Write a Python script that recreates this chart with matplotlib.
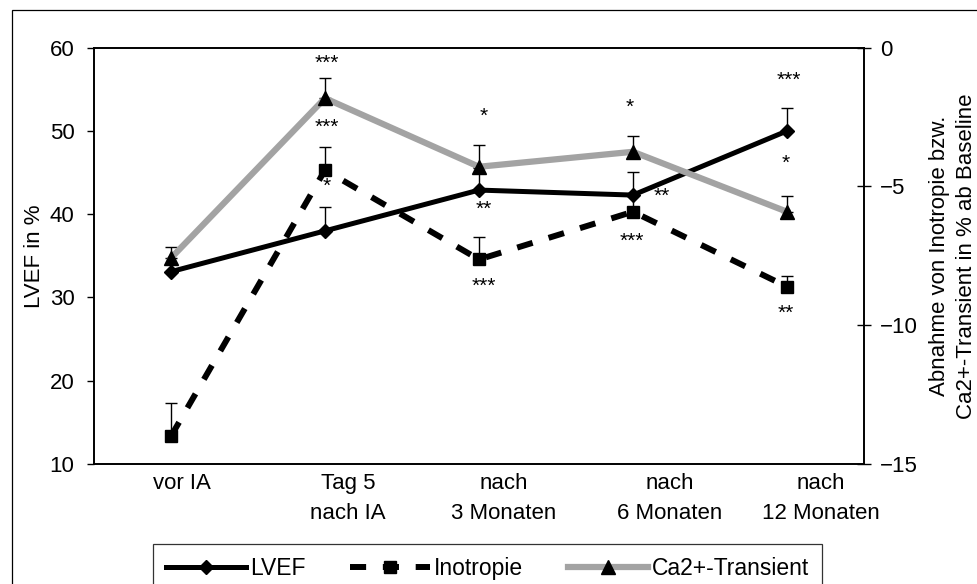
import numpy as np
import matplotlib
matplotlib.use("Agg")
import matplotlib.pyplot as plt
from matplotlib.patches import Rectangle
from matplotlib.lines import Line2D
import matplotlib.transforms as mtransforms

plt.rcParams['font.family'] = ['Liberation Sans', 'DejaVu Sans']

# Zeitpunkte
zeitpunkte = ['vor IA', 'Tag 5\nnach IA', 'nach\n3 Monaten', 'nach\n6 Monaten', 'nach\n12 Monaten']

# LVEF in % (linke Achse)
lvef = [33.1, 38.0, 42.9, 42.3, 50.0]
lvef_err = [np.nan, 2.9, 2.6, 2.8, 2.8]

# Abnahme in % ab Baseline (rechte Achse)
inotropie = [-14.0, -4.41, -7.63, -5.91, -8.61]
inotropie_err = [1.2, 0.84, 0.82, 0.6, 0.38]
ca_transient = [-7.58, -1.82, -4.29, -3.75, -5.91]
ca_err = [0.39, 0.74, 0.78, 0.57, 0.57]

# Signifikanzen (Zeitpunkt, Hoehe in LVEF-Einheiten, Text)
sig_idx = [1, 1, 1, 2, 2, 2, 3, 3, 3, 4, 4, 4]
sig_y = [58.1, 50.4, 43.3, 51.7, 40.6, 31.3, 52.8, 42.1, 36.7, 56.1, 46.1, 28.1]
sig_txt = ['***', '***', '*', '*', '**', '***', '*', '**', '***', '***', '*', '**']
sig_dx = [0.01, 0.01, 0.01, 0.03, 0.03, 0.03, -0.02, 0.19, -0.01, 0.01, -0.01, -0.01]

# Verschiebung der Achsenbeschriftungen
label_dx = [0.07, 0.15, 0.16, 0.24, 0.22]

fs = 16
fig = plt.figure(figsize=(9.78, 5.84), dpi=100)
ax = fig.add_axes([0.0961, 0.2055, 0.7873, 0.7128])
ax2 = ax.twinx()

x = np.arange(len(zeitpunkte))

# LVEF
ax.plot(x, lvef, color='black', lw=3.6, marker='D', ms=7, zorder=3)
ax.errorbar(x, lvef, yerr=[np.zeros(5), lvef_err], fmt='none', ecolor='black',
            elinewidth=1.0, capsize=4.5, capthick=1.0, zorder=2)

# Inotropie
ax2.plot(x, inotropie, color='black', lw=4.3, ls=(0, (2.7, 2.8)), dash_capstyle='butt',
         marker='s', ms=8.5, zorder=3)
ax2.errorbar(x, inotropie, yerr=[np.zeros(5), inotropie_err], fmt='none', ecolor='black',
             elinewidth=1.0, capsize=4.5, capthick=1.0, zorder=2)

# Ca2+-Transient
ax2.plot(x, ca_transient, color='#a3a3a3', lw=4.5, zorder=4)
ax2.plot(x, ca_transient, ls='none', marker='^', ms=10, color='black', zorder=5)
ax2.errorbar(x, ca_transient, yerr=[np.zeros(5), ca_err], fmt='none', ecolor='black',
             elinewidth=1.0, capsize=4.5, capthick=1.0, zorder=2)

for i, y, t, dx in zip(sig_idx, sig_y, sig_txt, sig_dx):
    ax.text(i + dx, y, t, ha='center', va='center', fontsize=15, zorder=6)

ax.set_xlim(-0.5, 4.5)
ax.set_ylim(10, 60)
ax.set_yticks(np.arange(10, 61, 10))
ax2.set_ylim(-15, 0)
ax2.set_yticks([-15, -10, -5, 0])

ax.set_xticks(x)
ax.set_xticklabels([''] * 5)
ax.tick_params(axis='x', length=0)
ax.tick_params(axis='y', direction='out', length=5, width=1, labelsize=fs, pad=9)
ax2.tick_params(axis='y', direction='inout', length=9.5, width=1, labelsize=fs, pad=7)

trans = mtransforms.blended_transform_factory(ax.transData, ax.transAxes)
for i, lab in enumerate(zeitpunkte):
    ax.text(i + label_dx[i], -0.022, lab, transform=trans, ha='center', va='top',
            fontsize=fs, linespacing=1.55)

for a in (ax, ax2):
    for s in a.spines.values():
        s.set_linewidth(1.2)
        s.set_color('black')

ax.set_ylabel('LVEF in %', fontsize=fs, labelpad=3)
ax2.set_ylabel('Abnahme von Inotropie bzw.\nCa2+-Transient in % ab Baseline',
               fontsize=fs, labelpad=8, linespacing=1.35)

# Legende
handles = [
    Line2D([], [], color='black', lw=3.6, marker='D', ms=7),
    Line2D([], [], color='black', lw=4.3, ls=(0, (2.7, 2.8)), marker='s', ms=8.5),
    Line2D([], [], color='#a3a3a3', lw=4.5, marker='^', ms=10, mfc='black', mec='black'),
]
leg = fig.legend(handles, ['LVEF', 'Inotropie', 'Ca2+-Transient'], ncol=3,
                 loc='upper left', bbox_to_anchor=(153 / 978, 1 - 544 / 584),
                 frameon=True, fancybox=False, edgecolor='black', fontsize=16.5,
                 handlelength=3.5, handletextpad=0.17, columnspacing=1.95,
                 borderpad=0.55, numpoints=1, borderaxespad=0)
leg.get_frame().set_linewidth(0.9)

# Rahmen um die ganze Grafik
fig.patches.append(Rectangle((12 / 978, -0.1), 1.2, 1 - 10 / 584 + 0.1, transform=fig.transFigure,
                             fill=False, edgecolor='black', lw=0.9))

fig.savefig('out.png', dpi=100)
